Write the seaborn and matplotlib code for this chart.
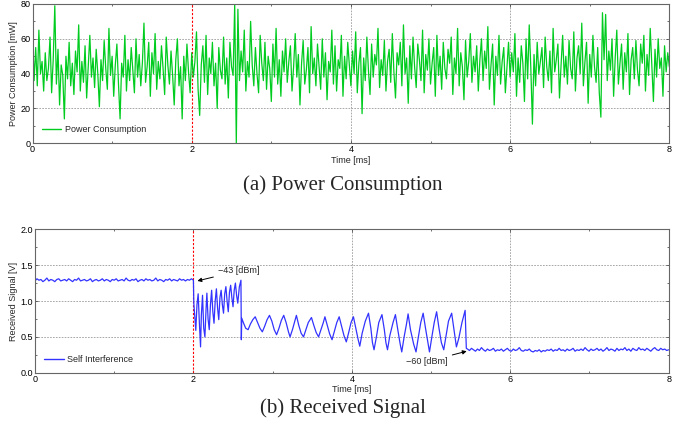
"""Power consumption and received signal plots (two panels)"""
import pandas as pd
import numpy as np
import matplotlib.pyplot as plt
import seaborn as sns

# potencia consumida [mW], una muestra cada 0.02 ms
power_mw = [
    62, 36, 55, 33, 65, 40, 47, 30, 52, 36, 43, 61, 29, 48, 79, 34, 54, 22, 45, 39,
    14, 50, 37, 58, 33, 46, 28, 53, 41, 68, 30, 47, 35, 56, 26, 44, 62, 38, 49, 32,
    54, 40, 21, 48, 36, 59, 43, 31, 66, 39, 50, 27, 45, 57, 34, 14, 46, 38, 62, 30,
    48, 36, 55, 42, 29, 60, 38, 51, 33, 46, 69, 35, 44, 58, 27, 52, 40, 63, 31, 47,
    37, 56, 43, 28, 61, 45, 34, 53, 39, 22, 48, 60, 33, 44, 14, 50, 36, 57, 41, 29,
    52, 38, 47, 64, 31, 16, 45, 56, 35, 62, 28, 49, 40, 58, 33, 46, 20, 55, 42, 37,
    61, 34, 49, 26, 58, 44, 39, 80, 0, 77, 36, 53, 41, 65, 30, 47, 38, 70, 45, 33,
    55, 40, 29, 62, 46, 36, 58, 31, 50, 43, 24, 57, 38, 66, 34, 48, 27, 53, 41, 60,
    35, 47, 56, 30, 44, 63, 38, 51, 22, 46, 59, 34, 42, 55, 29, 67, 40, 49, 33, 57,
    44, 31, 60, 38, 52, 25, 47, 41, 65, 34, 56, 30, 48, 43, 62, 27, 50, 37, 58, 45,
    33, 53, 40, 64, 29, 46, 55, 17, 49, 36, 61, 42, 28, 57, 38, 51, 45, 66, 32, 48,
    39, 59, 30, 47, 54, 35, 63, 41, 26, 52, 45, 58, 33, 68, 40, 49, 23, 56, 37, 61,
    44, 32, 57, 48, 36, 65, 29, 51, 42, 60, 34, 46, 55, 27, 62, 39, 50, 31, 58, 43,
    37, 54, 46, 61, 28, 49, 40, 66, 33, 52, 44, 25, 59, 38, 47, 63, 35, 50, 41, 56,
    30, 48, 60, 36, 53, 43, 67, 31, 45, 57, 22, 50, 39, 62, 34, 47, 55, 29, 44, 58,
    38, 52, 41, 63, 27, 49, 35, 56, 46, 24, 60, 37, 68, 43, 11, 51, 33, 58, 40, 47,
    55, 32, 61, 44, 36, 53, 29, 66, 41, 48, 57, 26, 45, 62, 38, 50, 34, 59, 43, 37,
    64, 30, 49, 56, 40, 69, 33, 47, 58, 23, 51, 38, 62, 44, 35, 55, 29, 15, 75, 48,
    74, 36, 53, 42, 60, 27, 49, 65, 34, 46, 57, 31, 52, 41, 63, 28, 48, 55, 37, 59,
    42, 33, 57, 46, 62, 30, 51, 39, 66, 45, 24, 54, 38, 60, 43, 49, 27, 56, 41, 52,
    44,
]
power_dt = 0.02

# señal recibida [V]: tramo plano antes de 2 ms
si_before = [
    1.28, 1.31, 1.29, 1.30, 1.27, 1.29, 1.32, 1.28, 1.30, 1.29, 1.27, 1.30, 1.31, 1.28, 1.29, 1.30,
    1.28, 1.31, 1.29, 1.27, 1.30, 1.29, 1.32, 1.28, 1.29, 1.30, 1.28, 1.29, 1.31, 1.27, 1.29, 1.30,
    1.28, 1.29, 1.31, 1.28, 1.30, 1.29, 1.27, 1.30, 1.29, 1.31, 1.28, 1.29, 1.30, 1.28, 1.32, 1.29,
    1.28, 1.30, 1.29, 1.31, 1.27, 1.29, 1.30, 1.28, 1.31, 1.29, 1.30, 1.28, 1.29, 1.32, 1.28, 1.30,
    1.29, 1.27, 1.30, 1.29, 1.31, 1.28, 1.30, 1.29, 1.28, 1.31, 1.29, 1.30, 1.28, 1.30, 1.29, 1.31,
    1.29,
]
# transitorio entre 2 y 5.45 ms
si_trans_t = [
    2.00, 2.005, 2.02, 2.03, 2.045, 2.06, 2.075, 2.09, 2.10, 2.115, 2.13, 2.145, 2.16, 2.17,
    2.185, 2.20, 2.215, 2.23, 2.245, 2.26, 2.275, 2.29, 2.305, 2.32, 2.335, 2.35, 2.365, 2.38,
    2.395, 2.41, 2.425, 2.44, 2.455, 2.47, 2.485, 2.50, 2.515, 2.53, 2.545, 2.56, 2.58, 2.60,
    2.605, 2.61, 2.63, 2.66, 2.69, 2.72, 2.75, 2.78, 2.81, 2.84, 2.87, 2.90, 2.93, 2.96,
    2.99, 3.02, 3.05, 3.08, 3.11, 3.14, 3.17, 3.20, 3.22, 3.25, 3.28, 3.30, 3.33, 3.36,
    3.39, 3.42, 3.45, 3.49, 3.52, 3.55, 3.58, 3.61, 3.64, 3.66, 3.69, 3.72, 3.75, 3.78,
    3.81, 3.84, 3.87, 3.90, 3.93, 3.96, 3.99, 4.02, 4.05, 4.08, 4.10, 4.13, 4.17, 4.21,
    4.24, 4.26, 4.28, 4.31, 4.34, 4.38, 4.41, 4.43, 4.45, 4.48, 4.52, 4.55, 4.58, 4.61,
    4.63, 4.66, 4.69, 4.71, 4.74, 4.78, 4.81, 4.84, 4.87, 4.90, 4.93, 4.96, 4.98, 5.01,
    5.04, 5.07, 5.10, 5.13, 5.16, 5.19, 5.22, 5.26, 5.29, 5.32, 5.35, 5.39, 5.43, 5.445,
]
si_trans_v = [
    1.29, 0.97, 0.75, 0.59, 0.95, 1.10, 0.70, 0.36, 0.80, 1.08, 0.62, 0.50, 0.90, 1.11,
    0.75, 0.60, 0.95, 1.15, 0.85, 0.69, 1.00, 1.17, 0.90, 0.74, 1.05, 1.15, 0.95, 0.83,
    1.10, 1.20, 1.00, 0.85, 1.12, 1.22, 1.05, 0.92, 1.15, 1.25, 1.08, 0.97, 1.20, 1.29,
    0.46, 0.76, 0.70, 0.62, 0.60, 0.68, 0.74, 0.78, 0.70, 0.62, 0.57, 0.65, 0.74, 0.80,
    0.72, 0.60, 0.53, 0.62, 0.73, 0.80, 0.70, 0.57, 0.50, 0.60, 0.72, 0.80, 0.66, 0.55,
    0.50, 0.60, 0.70, 0.77, 0.66, 0.56, 0.50, 0.60, 0.70, 0.78, 0.66, 0.54, 0.46, 0.58,
    0.70, 0.78, 0.65, 0.52, 0.43, 0.56, 0.70, 0.78, 0.62, 0.46, 0.37, 0.55, 0.72, 0.83,
    0.62, 0.42, 0.32, 0.50, 0.70, 0.81, 0.60, 0.42, 0.32, 0.52, 0.70, 0.81, 0.60, 0.40,
    0.29, 0.50, 0.68, 0.82, 0.60, 0.40, 0.29, 0.50, 0.70, 0.83, 0.62, 0.42, 0.29, 0.50,
    0.70, 0.85, 0.62, 0.42, 0.32, 0.52, 0.72, 0.83, 0.60, 0.36, 0.48, 0.70, 0.87, 0.34,
]
# tramo plano después de 5.46 ms
si_after = [
    0.33, 0.31, 0.34, 0.32, 0.30, 0.33, 0.31, 0.35, 0.32, 0.30, 0.33, 0.31, 0.32, 0.34, 0.30, 0.32,
    0.31, 0.33, 0.30, 0.32, 0.34, 0.31, 0.30, 0.33, 0.31, 0.32, 0.35, 0.31, 0.30, 0.32, 0.31, 0.33,
    0.30, 0.29, 0.31, 0.30, 0.32, 0.29, 0.31, 0.30, 0.32, 0.31, 0.33, 0.30, 0.32, 0.31, 0.34, 0.31,
    0.32, 0.30, 0.33, 0.31, 0.32, 0.34, 0.30, 0.32, 0.31, 0.33, 0.31, 0.35, 0.32, 0.30, 0.33, 0.31,
    0.32, 0.34, 0.31, 0.33, 0.30, 0.32, 0.35, 0.31, 0.33, 0.32, 0.30, 0.34, 0.31, 0.33, 0.32, 0.35,
    0.31, 0.33, 0.30, 0.34, 0.32, 0.31, 0.35, 0.32, 0.33, 0.31, 0.34, 0.32, 0.30, 0.33, 0.35, 0.32,
    0.31, 0.34, 0.32, 0.33, 0.31, 0.32,
]

green = '#00cc1f'
blue = '#3333ff'
grid_col = '#9a9a9a'
spine_col = '#666666'
dash = (0, (2, 1.5))

sns.set_style("ticks")
plt.rcParams['font.family'] = ['Liberation Sans', 'DejaVu Sans']
plt.rcParams['xtick.direction'] = 'in'
plt.rcParams['ytick.direction'] = 'in'
plt.rcParams['xtick.top'] = True
plt.rcParams['ytick.right'] = True

df_pw = pd.DataFrame({'t': np.arange(len(power_mw)) * power_dt, 'p': power_mw})
t_si = np.concatenate([np.linspace(0, 2.0, len(si_before)), si_trans_t,
                       np.linspace(5.46, 8.0, len(si_after))])
v_si = np.concatenate([si_before, si_trans_v, si_after])
df_si = pd.DataFrame({'t': t_si, 'v': v_si})

fig = plt.figure(figsize=(6.86, 4.29), dpi=100)
ax1 = fig.add_axes([0.0474, 0.666, 0.9283, 0.3247])
ax2 = fig.add_axes([0.0510, 0.1312, 0.9238, 0.3343])


def formato(ax, ylim, yticks, yminor, ylabel):
    ax.set_xlim(0, 8)
    ax.set_ylim(*ylim)
    ax.set_xticks([0, 2, 4, 6, 8])
    ax.set_xticks([1, 3, 5, 7], minor=True)
    ax.set_yticks(yticks)
    ax.set_yticks(yminor, minor=True)
    ax.tick_params(which='both', labelsize=6.5, colors='#333333', length=2.5, width=0.5,
                   pad=1.5, labelcolor='black')
    ax.tick_params(which='minor', length=1.5)
    for s in ax.spines.values():
        s.set_color(spine_col)
        s.set_linewidth(0.8)
    # rejilla a mano: la línea de 2 ms va en rojo
    for x in [4, 6]:
        ax.axvline(x, color=grid_col, ls=dash, lw=0.6, zorder=0.5)
    for y in yticks[1:-1]:
        ax.axhline(y, color=grid_col, ls=dash, lw=0.6, zorder=0.5)
    ax.axvline(2, color='#ff0000', ls=dash, lw=0.8, zorder=1.5)
    ax.set_xlabel('Time [ms]', fontsize=6.5, labelpad=1)
    ax.set_ylabel(ylabel, fontsize=6.5, labelpad=2)
    leg = ax.legend(loc='lower left', frameon=False, fontsize=6.5, handlelength=2.2,
                    handletextpad=0.4, borderaxespad=0.6)
    for h in leg.get_lines():
        h.set_linewidth(1.0)


sns.lineplot(data=df_pw, x='t', y='p', ax=ax1, color=green, lw=0.9,
             estimator=None, errorbar=None, label='Power Consumption')
formato(ax1, (0, 80), [0, 20, 40, 60, 80], [10, 30, 50, 70], 'Power Consumption [mW]')

sns.lineplot(data=df_si, x='t', y='v', ax=ax2, color=blue, lw=0.9, sort=False,
             estimator=None, errorbar=None, label='Self Interference')
formato(ax2, (0, 2), [0.0, 0.5, 1.0, 1.5, 2.0], [0.25, 0.75, 1.25, 1.75], 'Received Signal [V]')
ax2.set_yticklabels(['0.0', '0.5', '1.0', '1.5', '2.0'])

ax2.annotate('\u221243 [dBm]', xy=(2.05, 1.28), xytext=(2.31, 1.42), fontsize=6.5,
             va='center', ha='left',
             arrowprops=dict(arrowstyle='-|>', color='black', lw=0.7, mutation_scale=6,
                             shrinkA=1, shrinkB=0))
ax2.annotate('\u221260 [dBm]', xy=(5.45, 0.30), xytext=(5.21, 0.155), fontsize=6.5,
             va='center', ha='right',
             arrowprops=dict(arrowstyle='-|>', color='black', lw=0.7, mutation_scale=6,
                             shrinkA=1, shrinkB=0))

fig.text(0.5, 1 - 185 / 429, '(a) Power Consumption', ha='center', va='center',
         fontsize=15, family='Liberation Serif')
fig.text(0.5, 1 - 408 / 429, '(b) Received Signal', ha='center', va='center',
         fontsize=15, family='Liberation Serif')

fig.savefig('out.png', dpi=100)
